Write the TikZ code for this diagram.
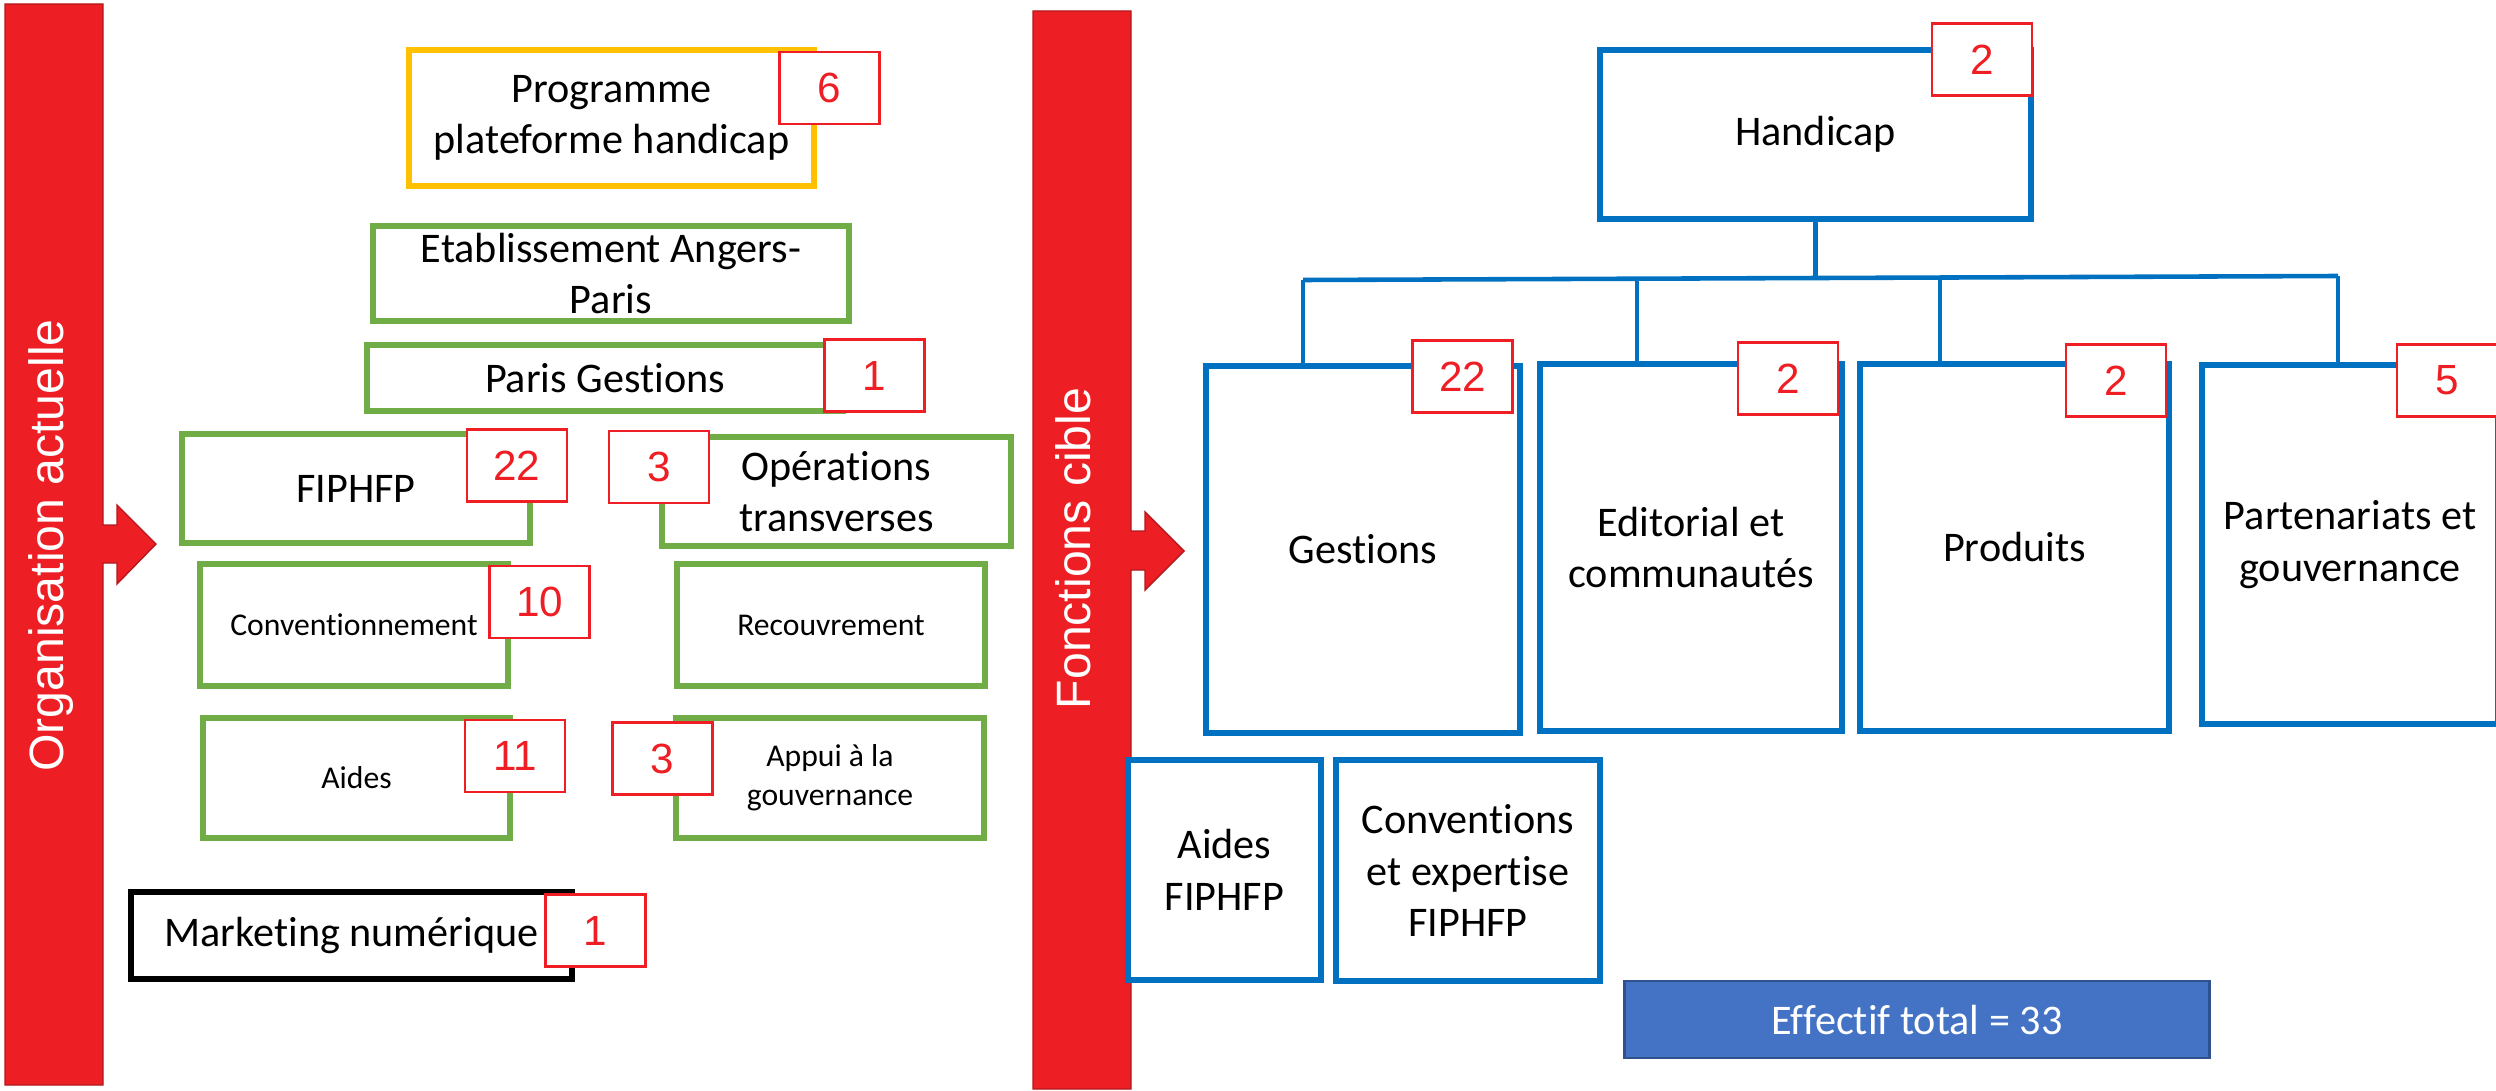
\documentclass[tikz,border=0pt]{standalone}
\usepackage{fontspec}
\setmainfont{Carlito}[Ligatures=NoCommon]
\newfontfamily\arialf{Liberation Sans}
\usetikzlibrary{positioning}
\definecolor{barred}{RGB}{237,31,36}
\definecolor{bardark}{RGB}{180,24,28}
\definecolor{numred}{RGB}{238,30,36}
\definecolor{orggreen}{RGB}{112,173,71}
\definecolor{orgyellow}{RGB}{255,192,0}
\definecolor{orgblue}{RGB}{0,112,192}
\definecolor{totalblue}{RGB}{68,114,196}
\definecolor{totaledge}{RGB}{47,82,143}

\begin{document}
\begin{tikzpicture}[x=0.01cm, y=-0.01cm]
	\tikzset{box/.style={draw, rectangle, line width=1.7pt, fill=white, inner sep=0pt, outer sep=0pt, align=center, font=\fontsize{12pt}{14.6pt}\selectfont},
		small/.style={font=\fontsize{9pt}{11pt}\selectfont},
		ybox/.style={box, draw=orgyellow},
		gbox/.style={box, draw=orggreen},
		bbox/.style={box, draw=orgblue},
		badge/.style={draw=numred, line width=0.7pt, fill=white, text=numred, minimum width=1cm, minimum height=0.72cm, inner sep=0pt, font=\arialf\fontsize{12pt}{14pt}\selectfont},
		link/.style={draw=orgblue, line width=1.3pt},
		barlabel/.style={text=white, rotate=90, anchor=base, font=\arialf\fontsize{13.7pt}{16pt}\selectfont} }

	\clip (0,0) rectangle (2496,1091);

	% left: current organisation
	\filldraw[fill=barred, draw=bardark, line width=0.4pt] (5,4) -- (103,4) -- (103,525) -- (117,525) -- (117,505) -- (156,544) -- (117,584) -- (117,563) -- (103,563) -- (103,1085) -- (5,1085) -- cycle;
	\node[barlabel] (orgL) at (63,545.5) {Organisation actuelle};

	\node[ybox, minimum width=4.05cm, minimum height=1.36cm] (prog) at (611.5,118) {Programme\\plateforme handicap};
	\node[gbox, minimum width=4.76cm, minimum height=0.95cm] (etab) at (611,273.5) {Etablissement Angers-\\Paris};
	\node[gbox, minimum width=4.76cm, minimum height=0.66cm] (paris) at (605,378) {Paris Gestions};
	\node[gbox, minimum width=3.48cm, minimum height=1.09cm] (fiphfp) at (356,488.5) {FIPHFP};
	\node[gbox, minimum width=3.49cm, minimum height=1.09cm] (ops) at (836.5,491.5) {Opérations\\transverses};
	\node[gbox, small, minimum width=3.08cm, minimum height=1.22cm] (conv) at (354,625) {Conventionnement};
	\node[gbox, small, minimum width=3.08cm, minimum height=1.22cm] (recouv) at (831,625) {Recouvrement};
	\node[gbox, small, minimum width=3.07cm, minimum height=1.20cm] (aides) at (356.5,778) {Aides};
	\node[gbox, small, minimum width=3.08cm, minimum height=1.20cm] (appui) at (830,778) {Appui à la\\gouvernance};
	\node[box, draw=black, line width=1.5pt, minimum width=4.41cm, minimum height=0.87cm] (mkt) at (351.5,935.5) {Marketing numérique};

	\node[badge] (nProg) at (829.5,88) {6};
	\node[badge] (nParis) at (874.5,375.5) {1};
	\node[badge] (nFiphfp) at (517,465.5) {22};
	\node[badge] (nOps) at (659,467) {3};
	\node[badge] (nConv) at (539.5,602) {10};
	\node[badge] (nAides) at (515,756) {11};
	\node[badge] (nAppui) at (662.5,758.5) {3};
	\node[badge] (nMkt) at (595.5,930.5) {1};

	% right: target functions
	\filldraw[fill=barred, draw=bardark, line width=0.4pt] (1033,11) -- (1131,11) -- (1131,531) -- (1145,531) -- (1145,512) -- (1184,551) -- (1145,590) -- (1145,570) -- (1131,570) -- (1131,1089) -- (1033,1089) -- cycle;
	\node[barlabel] (fctL) at (1090,548.5) {Fonctions cible};

	\node[bbox, minimum width=4.31cm, minimum height=1.69cm] (handicap) at (1815.5,134.5) {Handicap};
	\node[bbox, minimum width=3.14cm, minimum height=3.67cm] (gest) at (1363,549.5) {Gestions};
	\node[bbox, minimum width=3.02cm, minimum height=3.67cm] (edit) at (1691,547.5) {Editorial et\\communautés};
	\node[bbox, minimum width=3.09cm, minimum height=3.67cm] (prod) at (2014.5,547.5) {Produits};
	\node[bbox, minimum width=2.96cm, minimum height=3.59cm] (part) at (2350,544.5) {Partenariats et\\gouvernance};
	\node[bbox, minimum width=1.93cm, minimum height=2.20cm] (aidesF) at (1224.5,870) {Aides\\FIPHFP};
	\node[bbox, minimum width=2.64cm, minimum height=2.21cm] (convF) at (1468,870.5) {Conventions\\et expertise\\FIPHFP};
	\node[box, fill=totalblue, draw=totaledge, line width=0.8pt, text=white, minimum width=5.84cm, minimum height=0.77cm] (total) at (1917,1019.5) {Effectif total = 33};

	\coordinate (busL) at (1303,280);
	\coordinate (dropB) at (1637,279);
	\coordinate (dropC) at (1940,277.5);
	\coordinate (busR) at (2338,276);
	\draw[link] (handicap.south) -- (handicap.south |- dropB);
	\draw[link] (busL) -- (busR);
	\draw[link] (busL) -- (busL |- gest.north);
	\draw[link] (dropB) -- (dropB |- edit.north);
	\draw[link] (dropC) -- (dropC |- prod.north);
	\draw[link] (busR) -- (busR |- part.north);

	\node[badge] (nHandicap) at (1982,59.5) {2};
	\node[badge] (nGest) at (1462.5,376.5) {22};
	\node[badge] (nEdit) at (1788,378.5) {2};
	\node[badge] (nProd) at (2116,380.5) {2};
	\node[badge] (nPart) at (2447,380.5) {5};

\end{tikzpicture}
\end{document}
